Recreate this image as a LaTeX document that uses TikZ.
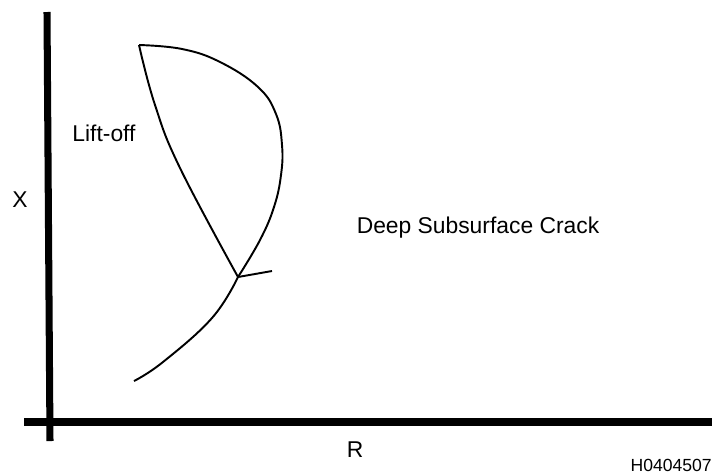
\documentclass[tikz,border=0pt]{standalone}
\usepackage{fontspec}
\setmainfont{Liberation Sans}
\usepackage{xcolor}
\usetikzlibrary{positioning,calc}

\begin{document}
\begin{tikzpicture}[x=0.02cm, y=-0.02cm,
  axis/.style={line width=4pt, black},
  crack/.style={line width=1.1pt, black, line join=round},
  lbl/.style={font=\fontsize{13}{15}\selectfont, inner sep=0pt},
  tag/.style={font=\fontsize{10}{12}\selectfont, inner sep=0pt}
]
  \useasboundingbox (0,0) rectangle (715,474);

  % axes
  \coordinate (xtop) at (47,12);
  \coordinate (xbot) at (50,441);
  \coordinate (rleft) at (24,422);
  \coordinate (rright) at (712,422);
  \draw[axis] (xtop) -- (xbot);
  \draw[axis] (rleft) -- (rright);

  % crack outline
  \coordinate (tip) at (139,45);
  \coordinate (joint) at (238,277);
  \coordinate (spur) at (272,271);
  \coordinate (tail) at (134,381);
  \draw[crack] plot[smooth, tension=0.7] coordinates
    {(139,45) (182,49) (220,62) (258,87) (276,114) (282,145)
     (281,175) (274,207) (260,240) (238,277)};
  \draw[crack] plot[smooth, tension=0.7] coordinates
    {(139,45) (155,105) (180,168) (238,277)};
  \draw[crack] plot[smooth, tension=0.7] coordinates
    {(238,277) (212,318) (163,362) (134,381)};
  \draw[crack] (joint) -- (spur);

  % labels
  \node[lbl] (xlab) at (20,200) {X};
  \node[lbl] (rlab) at (355,450) {R};
  \node[lbl] (lift) at (104,133) {Lift-off};
  \node[lbl] (deep) at (478,228) {Deep Subsurface Crack};
  \node[tag, anchor=east] (code) at (712,465) {H0404507};
\end{tikzpicture}
\end{document}
